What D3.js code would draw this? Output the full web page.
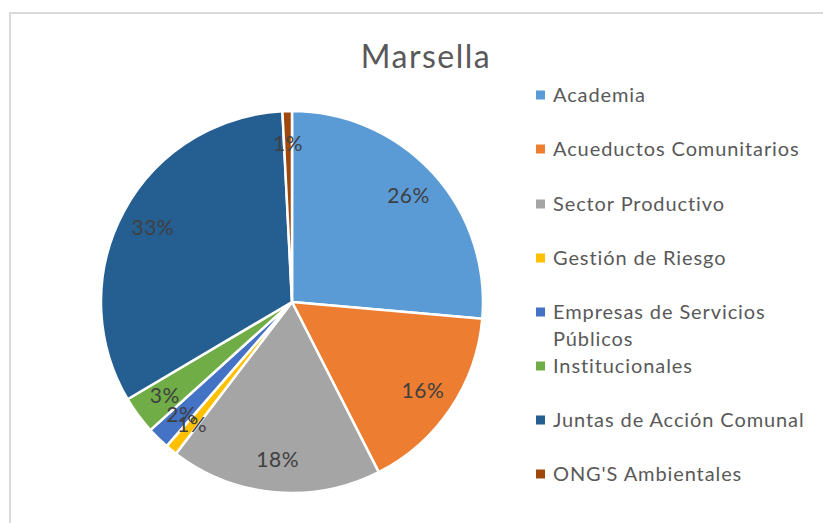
<!DOCTYPE html>
<html>
<head>
  <meta charset="utf-8">
  <style>
    body { margin: 0; background: #fff; }
    svg { display: block; }
  </style>
</head>
<body>
<script src="https://cdn.jsdelivr.net/npm/d3@7"></script>
<script>

// categories and their shares (percent)
var categories = ["Academia", "Acueductos Comunitarios", "Sector Productivo", "Gestión de Riesgo",
                  "Empresas de Servicios Públicos", "Institucionales", "Juntas de Acción Comunal", "ONG'S Ambientales"];
var shares = [26.4, 16.1, 17.9, 1.0, 1.9, 3.2, 32.7, 0.8];
var colors = ["#5B9BD5", "#ED7D31", "#A5A5A5", "#FFC000", "#4472C4", "#70AD47", "#255E91", "#9E480E"];
// legend lines (long names wrap in the original)
var legendLines = [["Academia"], ["Acueductos Comunitarios"], ["Sector Productivo"], ["Gestión de Riesgo"],
                   ["Empresas de Servicios", "Públicos"], ["Institucionales"], ["Juntas de Acción Comunal"], ["ONG'S Ambientales"]];

var width = 823, height = 523;
var font = "Lato, 'Open Sans', sans-serif";

var svg = d3.select("body").append("svg")
    .attr("width", width)
    .attr("height", height);

// chart frame
svg.append("rect")
    .attr("x", 10).attr("y", 13)
    .attr("width", 840).attr("height", 540)
    .attr("fill", "#fff")
    .attr("stroke", "#d9d9d9")
    .attr("stroke-width", 2);

svg.append("text")
    .attr("x", 426).attr("y", 68)
    .attr("text-anchor", "middle")
    .attr("font-family", font)
    .attr("font-size", 32)
    .attr("letter-spacing", 1.5)
    .attr("fill", "#595959")
    .text("Marsella");

var cx = 292, cy = 302, radius = 191;

var pie = d3.pie().sort(null).value(function(d) { return d; });
var arc = d3.arc().innerRadius(0).outerRadius(radius);
var labelArc = d3.arc().innerRadius(158).outerRadius(158);

var g = svg.append("g").attr("transform", "translate(" + cx + "," + cy + ")");
var arcs = pie(shares);

g.selectAll("path")
    .data(arcs)
  .enter().append("path")
    .attr("d", arc)
    .attr("fill", function(d, i) { return colors[i]; })
    .attr("stroke", "#fff")
    .attr("stroke-width", 2.5)
    .attr("stroke-linejoin", "round");

g.selectAll("text.lbl")
    .data(arcs)
  .enter().append("text")
    .attr("class", "lbl")
    .attr("transform", function(d) { return "translate(" + labelArc.centroid(d) + ")"; })
    .attr("text-anchor", "middle")
    .attr("dy", "0.35em")
    .attr("font-family", font)
    .attr("font-size", 21)
    .attr("letter-spacing", 0.5)
    .attr("fill", "#404040")
    .text(function(d) { return Math.round(d.data) + "%"; });

// legend
var legendY = [95, 149, 204, 258, 312, 366, 420, 474];
var legend = svg.selectAll("g.leg")
    .data(categories)
  .enter().append("g")
    .attr("class", "leg")
    .attr("transform", function(d, i) { return "translate(536," + legendY[i] + ")"; });

legend.append("rect")
    .attr("x", 0).attr("y", -4.5)
    .attr("width", 9).attr("height", 9)
    .attr("fill", function(d, i) { return colors[i]; });

legend.append("text")
    .attr("font-family", font)
    .attr("font-size", 20)
    .attr("letter-spacing", 0.9)
    .attr("fill", "#595959")
    .each(function(d, i) {
      var t = d3.select(this);
      legendLines[i].forEach(function(line, k) {
        t.append("tspan").attr("x", 17).attr("dy", k === 0 ? "0.35em" : 27).text(line);
      });
    });

</script>
</body>
</html>
